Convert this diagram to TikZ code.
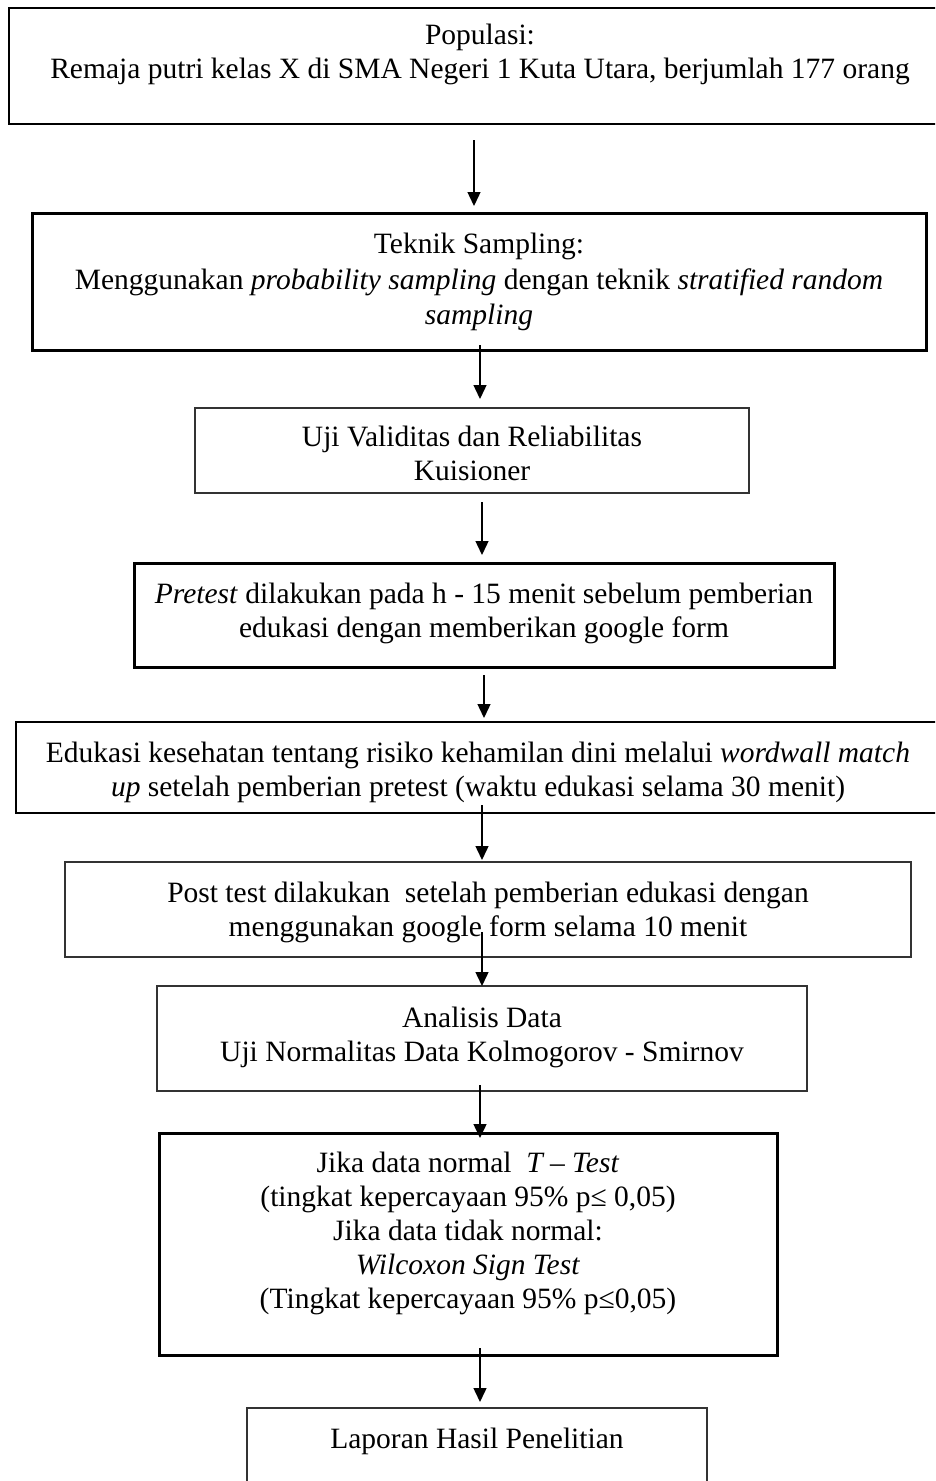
\documentclass[tikz,border=0pt]{standalone}
\usepackage{fontspec}
\setmainfont{Liberation Serif}
\usetikzlibrary{positioning,arrows.meta}

\begin{document}
\begin{tikzpicture}[x=1pt, y=-1pt,
    frame/.style={draw, rectangle, inner sep=0pt, outer sep=0pt},
    thin/.style={frame, draw=black!80, line width=1.5pt},
    mid/.style={frame, line width=2pt},
    bold/.style={frame, line width=3pt},
    txt/.style={inner sep=0pt, outer sep=0pt, align=center,
      font=\fontsize{29.5pt}{34pt}\selectfont},
    arr/.style={line width=1.4pt, -{Triangle[length=14pt,width=13pt]}}]
  \clip (0,0) rectangle (935,1481);
  % boxes
  \node[mid, minimum width=942pt, minimum height=116pt] (P) at (480,66) {};
  \node[bold, minimum width=894pt, minimum height=137pt] (T) at (479,281.5) {};
  \node[thin, minimum width=554pt, minimum height=85pt] (U) at (472,450.5) {};
  \node[bold, minimum width=700pt, minimum height=104pt] (Pr) at (484,615) {};
  \node[mid, minimum width=924pt, minimum height=91pt] (E) at (478,767.5) {};
  \node[thin, minimum width=846pt, minimum height=95pt] (Po) at (488,909.5) {};
  \node[thin, minimum width=650pt, minimum height=105pt] (A) at (482,1038.5) {};
  \node[bold, minimum width=618pt, minimum height=222pt] (J) at (468,1244) {};
  \node[thin, minimum width=460pt, minimum height=92pt] (L) at (477,1454) {};
  % texts
  \node[txt, below=13pt of P.north] (Pt) {\strut Populasi:\\
    Remaja putri kelas X di SMA Negeri 1 Kuta Utara, berjumlah 177 orang};
  \node[txt, below=16pt of T.north, font=\fontsize{29.5pt}{35.5pt}\selectfont] (Tt) {\strut Teknik Sampling:\\
    Menggunakan \textit{probability sampling} dengan teknik \textit{stratified random}\\
    \textit{sampling}};
  \node[txt, below=15pt of U.north] (Ut) {\strut Uji Validitas dan Reliabilitas\\
    Kuisioner};
  \node[txt, below=17pt of Pr.north] (Prt) {\strut\textit{Pretest} dilakukan pada h - 15 menit sebelum pemberian\\
    edukasi dengan memberikan google form};
  \node[txt, below=17pt of E.north] (Et) {\strut Edukasi kesehatan tentang risiko kehamilan dini melalui \textit{wordwall match}\\
    \textit{up} setelah pemberian pretest (waktu edukasi selama 30 menit)};
  \node[txt, below=17pt of Po.north] (Pot) {\strut Post test dilakukan~ setelah pemberian edukasi dengan\\
    menggunakan google form selama 10 menit};
  \node[txt, below=18pt of A.north] (At) {\strut Analisis Data\\
    Uji Normalitas Data Kolmogorov - Smirnov};
  \node[txt, below=16pt of J.north] (Jt) {\strut Jika data normal~ \textit{T – Test}\\
    (tingkat kepercayaan 95\% p≤ 0,05)\\
    Jika data tidak normal:\\
    \textit{Wilcoxon Sign Test}\\
    (Tingkat kepercayaan 95\% p≤0,05)};
  \node[txt, below=17pt of L.north] (Lt) {\strut Laporan Hasil Penelitian};
  % arrows
  \path ([xshift=-6pt,yshift=-16pt]P.south) edge [arr] ([xshift=-5pt,yshift=7pt]T.north);
  \path ([xshift=1pt,yshift=5pt]T.south) edge [arr] ([xshift=8pt,yshift=9pt]U.north);
  \path ([xshift=10pt,yshift=-9pt]U.south) edge [arr] ([xshift=-2pt,yshift=8pt]Pr.north);
  \path ([yshift=-8pt]Pr.south) edge [arr] ([xshift=6pt,yshift=4pt]E.north);
  \path ([xshift=4pt,yshift=8pt]E.south) edge [arr] ([xshift=-6pt,yshift=2pt]Po.north);
  \path ([xshift=-6pt,yshift=25pt]Po.south) edge [arr] (A.north);
  \path ([xshift=-2pt,yshift=6pt]A.south) edge [arr] ([xshift=12pt,yshift=-5pt]J.north);
  \path ([xshift=12pt,yshift=7pt]J.south) edge [arr] ([xshift=3pt,yshift=6pt]L.north);
\end{tikzpicture}
\end{document}
